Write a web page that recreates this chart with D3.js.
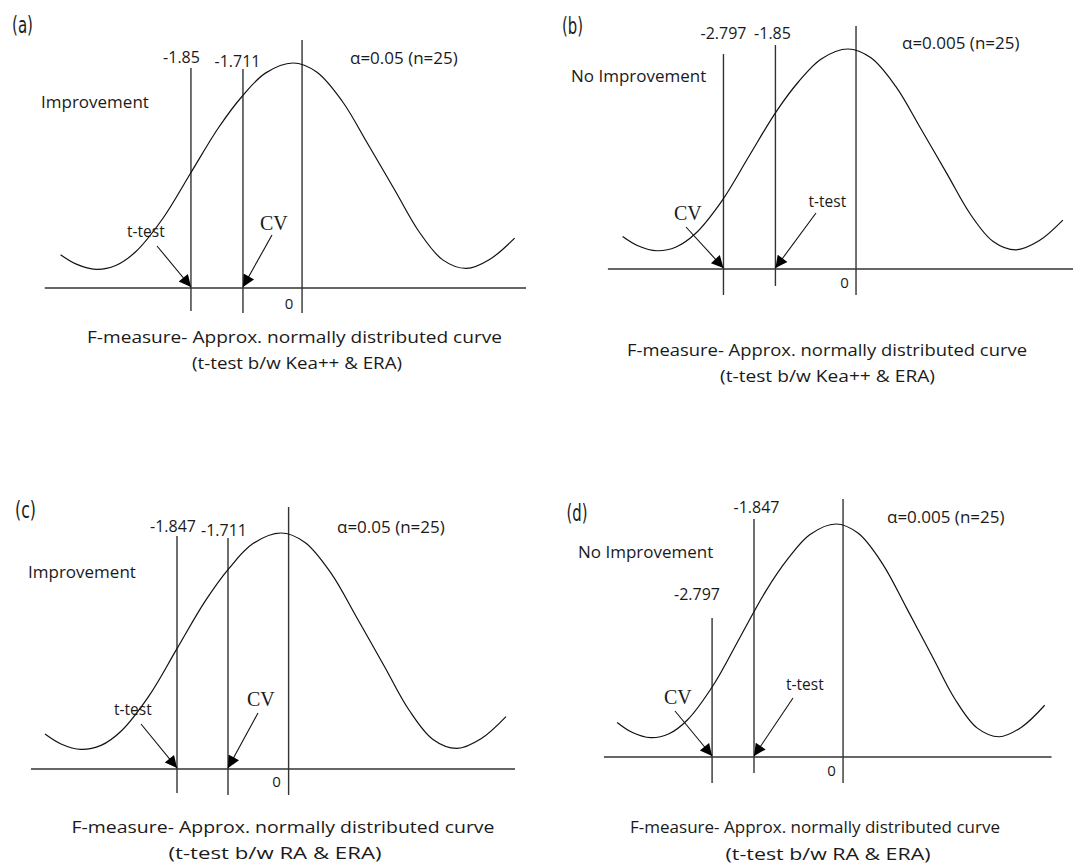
<!DOCTYPE html>
<html>
<head>
<meta charset="utf-8">
<script src="https://cdn.jsdelivr.net/npm/d3@7"></script>
<style>
	body { margin: 0; background: #fff; }
	svg text { font-family: 'Open Sans', 'Noto Sans', sans-serif; fill: #1a1a1a; }
	.tag { font-family: 'DejaVu Sans Condensed', 'Liberation Sans Narrow', sans-serif; font-stretch: condensed; }
	.serif { font-family: 'Liberation Serif', 'DejaVu Serif', serif; }
</style>
</head>
<body>
<script>
// ---- data ----
var panelTags = ['(a)', '(b)', '(c)', '(d)'];
var alphaLabels = ['α=0.05 (n=25)', 'α=0.005 (n=25)', 'α=0.05 (n=25)', 'α=0.005 (n=25)'];
var regionLabels = ['Improvement', 'No Improvement', 'Improvement', 'No Improvement'];
var tTestLabels = ['-1.85', '-1.85', '-1.847', '-1.847'];
var cvLabels = ['-1.711', '-2.797', '-1.711', '-2.797'];
var zeroLabel = '0';
var captionTop = 'F-measure- Approx. normally distributed  curve';
var captionBottom = ['(t-test b/w Kea++ & ERA)', '(t-test b/w Kea++ & ERA)', '(t-test b/w RA & ERA)', '(t-test b/w RA & ERA)'];
// where the lines stand on the sketch (x units: peak = 0, left trough = -100)
var tTestPos = [-51.8, -38, -52, -44.2];
var cvPos = [-25.4, -65.2, -26.5, -66.8];
var zeroPos = [4.6, 4.2, 3.8, 3.8];
// the hand drawn bell, same in all four panels (y units: baseline = 0, peak = 100)
var curveX = [-118, -110, -100, -90, -80, -66, -52, -38, -26, -14, 0, 12, 25, 38, 52, 64, 76, 88, 100, 112.5];
var curveY = [14.8, 10.6, 8.3, 10, 16, 31, 51, 71, 85, 95.5, 100, 96, 83, 64, 43, 25, 12.5, 8.7, 12.8, 22.2];

// ---- layout of each panel ----
var layout = [
	{ peakX: 293, unit: 1.97, base: 288, height: 225, axis: [-126, 118.3],
		tLine: [97.8, -10.2], cvLine: [97.3, -11.1], zLine: [110.2, -11.1],
		tag: [12, 33], tLab: [181.5, 63], cvLab: [237.5, 67], alpha: [350, 64], region: [41, 108],
		tText: [127, 237], tFrom: [157, 246], cvText: [260, 230], cvFrom: [272, 235], zero: [289, 309],
		cap1: [294.5, 343, 415], cap2: [297, 369, 210] },
	{ peakX: 848, unit: 1.91, base: 269, height: 220, axis: [-125.7, 118],
		tLine: [101.8, -7.7], cvLine: [97.7, -11.8], zLine: [110.5, -11.8],
		tag: [562, 34], tLab: [772.5, 39], cvLab: [723.5, 39], alpha: [902, 49], region: [571, 82],
		tText: [808.5, 207], tFrom: [816, 213], cvText: [674, 220], cvFrom: [686, 227], zero: [844.5, 288],
		cap1: [827, 356, 400], cap2: [827.5, 382, 215] },
	{ peakX: 281, unit: 2.0, base: 769, height: 236, axis: [-125, 117],
		tLine: [98.7, -10.2], cvLine: [97.9, -11], zLine: [111, -11],
		tag: [15, 518], tLab: [173, 532], cvLab: [224, 536], alpha: [337, 533], region: [28, 578],
		tText: [114, 715], tFrom: [141, 724], cvText: [247, 706], cvFrom: [258, 713], zero: [276.5, 787],
		cap1: [283, 833, 423], cap2: [275, 859, 213] },
	{ peakX: 836, unit: 1.855, base: 757, height: 233, axis: [-125.1, 116.2],
		tLine: [102.1, -6.9], cvLine: [59.7, -11.2], zLine: [110.7, -11.2],
		tag: [566.5, 521], tLab: [756.5, 513], cvLab: [697, 600], alpha: [887, 523], region: [578, 558],
		tText: [786, 690], tFrom: [793, 698], cvText: [664, 704], cvFrom: [675, 711], zero: [831.5, 776],
		cap1: [815, 833, 370], cap2: [828, 860, 205] }
];

var svg = d3.select('body').append('svg').attr('width', 1073).attr('height', 868);

svg.append('defs').append('marker')
	.attr('id', 'head')
	.attr('viewBox', '0 0 10 10')
	.attr('refX', 10).attr('refY', 5)
	.attr('markerUnits', 'userSpaceOnUse')
	.attr('markerWidth', 15).attr('markerHeight', 12)
	.attr('orient', 'auto')
	.append('path').attr('d', 'M0,0 L10,5 L0,10 Z').attr('fill', '#000');

var bell = curveX.map((d, i) => [d, curveY[i]]);

panelTags.forEach(function(tag, i){
	var L = layout[i];
	var x = d3.scaleLinear().domain([-100, 0]).range([L.peakX - 100 * L.unit, L.peakX]);
	var y = d3.scaleLinear().domain([0, 100]).range([L.base, L.base - L.height]);
	var g = svg.append('g');

	// baseline
	g.append('line')
		.attr('x1', x(L.axis[0])).attr('x2', x(L.axis[1]))
		.attr('y1', y(0)).attr('y2', y(0))
		.attr('stroke', '#333').attr('stroke-width', 1.4);

	// vertical lines: t-test, CV, zero
	var lines = [[tTestPos[i], L.tLine], [cvPos[i], L.cvLine], [zeroPos[i], L.zLine]];
	g.selectAll('line.v').data(lines).enter().append('line')
		.attr('class', 'v')
		.attr('x1', d => x(d[0])).attr('x2', d => x(d[0]))
		.attr('y1', d => y(d[1][0])).attr('y2', d => y(d[1][1]))
		.attr('stroke', '#333').attr('stroke-width', 1.4);

	// the curve
	var line = d3.line().x(d => x(d[0])).y(d => y(d[1])).curve(d3.curveCatmullRom.alpha(0.5));
	g.append('path').attr('d', line(bell))
		.attr('fill', 'none').attr('stroke', '#111').attr('stroke-width', 1.2);

	// arrows
	g.append('line')
		.attr('x1', L.tFrom[0]).attr('y1', L.tFrom[1])
		.attr('x2', x(tTestPos[i])).attr('y2', y(0) - 1)
		.attr('stroke', '#111').attr('stroke-width', 1.1).attr('marker-end', 'url(#head)');
	g.append('line')
		.attr('x1', L.cvFrom[0]).attr('y1', L.cvFrom[1])
		.attr('x2', x(cvPos[i])).attr('y2', y(0) - 1)
		.attr('stroke', '#111').attr('stroke-width', 1.1).attr('marker-end', 'url(#head)');

	// texts
	g.append('text').attr('class', 'tag').attr('x', L.tag[0]).attr('y', L.tag[1])
		.attr('font-size', 23).attr('textLength', 21).attr('lengthAdjust', 'spacingAndGlyphs').text(tag);
	g.append('text').attr('x', L.tLab[0]).attr('y', L.tLab[1]).attr('text-anchor', 'middle')
		.attr('font-size', 16).text(tTestLabels[i]);
	g.append('text').attr('x', L.cvLab[0]).attr('y', L.cvLab[1]).attr('text-anchor', 'middle')
		.attr('font-size', 16).text(cvLabels[i]);
	g.append('text').attr('x', L.alpha[0]).attr('y', L.alpha[1])
		.attr('font-size', 17).text(alphaLabels[i]);
	g.append('text').attr('x', L.region[0]).attr('y', L.region[1])
		.attr('font-size', 17).text(regionLabels[i]);
	g.append('text').attr('x', L.tText[0]).attr('y', L.tText[1])
		.attr('font-size', 15.5).text('t-test');
	g.append('text').attr('class', 'serif').attr('x', L.cvText[0]).attr('y', L.cvText[1])
		.attr('font-size', 20).text('CV');
	g.append('text').attr('x', L.zero[0]).attr('y', L.zero[1]).attr('text-anchor', 'middle')
		.attr('font-size', 15).text(zeroLabel);
	g.append('text').attr('x', L.cap1[0]).attr('y', L.cap1[1]).attr('text-anchor', 'middle')
		.attr('font-size', 16.5).attr('textLength', L.cap1[2]).attr('lengthAdjust', 'spacingAndGlyphs')
		.text(captionTop);
	g.append('text').attr('x', L.cap2[0]).attr('y', L.cap2[1]).attr('text-anchor', 'middle')
		.attr('font-size', 16.5).attr('textLength', L.cap2[2]).attr('lengthAdjust', 'spacingAndGlyphs')
		.text(captionBottom[i]);
});
</script>
</body>
</html>
